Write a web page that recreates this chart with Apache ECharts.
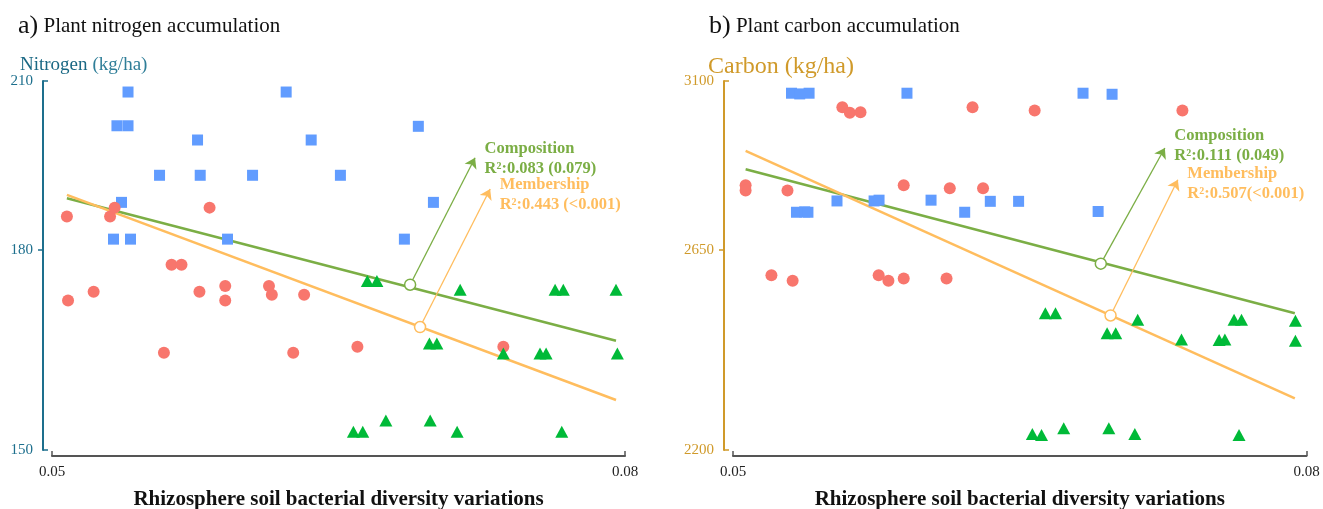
<!DOCTYPE html>
<html><head><meta charset="utf-8">
<script src="https://cdn.jsdelivr.net/npm/echarts@6/dist/echarts.min.js"></script>
<style>html,body{margin:0;padding:0;background:#fff}#c{width:1323px;height:509px}</style>
</head><body><div id="c"></div>
<script>
// ---------- data ----------
const xTicks = [0.05, 0.08];
const nTicks = [150, 180, 210];
const cTicks = [2200, 2650, 3100];

// Panel a) nitrogen (kg/ha)
const nBlue = [[0.05398,207.9],[0.06226,207.9],[0.05340,201.6],[0.05398,201.6],[0.05762,199.0],[0.06357,199.0],[0.06918,201.5],[0.05563,192.7],[0.05776,192.7],[0.06050,192.7],[0.06510,192.7],[0.05364,188.0],[0.06997,188.0],[0.05322,181.8],[0.05411,181.8],[0.05919,181.8],[0.06845,181.8]];
const nRed = [[0.05078,185.6],[0.05304,185.6],[0.05328,187.1],[0.05825,187.1],[0.05626,177.6],[0.05678,177.6],[0.05084,171.9],[0.05218,173.3],[0.05772,173.3],[0.05907,174.2],[0.05907,171.9],[0.06136,174.2],[0.06151,172.8],[0.06320,172.8],[0.05586,163.9],[0.06263,163.9],[0.06599,164.8],[0.07363,164.8]];
const nGreen = [[0.06651,175.0],[0.06701,175.0],[0.07137,173.6],[0.07634,173.6],[0.07677,173.6],[0.07953,173.6],[0.06976,165.3],[0.07015,165.3],[0.07363,163.8],[0.07555,163.8],[0.07587,163.8],[0.07960,163.8],[0.06578,152.5],[0.06627,152.5],[0.06748,154.1],[0.06980,154.1],[0.07121,152.5],[0.07669,152.5]];
const nFitComp = [[0.05078,188.7],[0.07953,165.7]];
const nFitMemb = [[0.05078,189.3],[0.07953,157.0]];
const nCompArrow = [[0.06875,174.4],[0.07215,195.8]];
const nMembArrow = [[0.06927,167.8],[0.07294,190.3]];
const nCompText = ['Composition','R²:0.083 (0.079)'];
const nMembText = ['Membership','R²:0.443 (<0.001)'];

// Panel b) carbon (kg/ha)
const cBlue = [[0.05306,3065],[0.05349,3063],[0.05398,3065],[0.05910,3065],[0.06831,3065],[0.06983,3062],[0.05544,2773],[0.05738,2773],[0.05764,2775],[0.06036,2775],[0.06346,2772],[0.06494,2772],[0.05332,2744],[0.05375,2745],[0.05392,2744],[0.06212,2744],[0.06910,2746]];
const cRed = [[0.05066,2814],[0.05066,2800],[0.05285,2800],[0.05572,3025],[0.05611,3010],[0.05667,3011],[0.05893,2814],[0.06134,2806],[0.06253,3025],[0.06308,2806],[0.06578,3016],[0.07351,3016],[0.05201,2588],[0.05312,2575],[0.05762,2588],[0.05813,2575],[0.05893,2580],[0.06117,2580]];
const cGreen = [[0.06634,2498],[0.06687,2498],[0.07117,2483],[0.07621,2483],[0.07660,2483],[0.07942,2481],[0.06957,2452],[0.07002,2452],[0.07346,2438],[0.07543,2437],[0.07573,2438],[0.07942,2435],[0.06566,2233],[0.06614,2231],[0.06730,2245],[0.06966,2245],[0.07102,2233],[0.07647,2231]];
const cFitComp = [[0.05066,2856],[0.07939,2498]];
const cFitMemb = [[0.05066,2905],[0.07939,2308]];
const cCompArrow = [[0.06924,2616],[0.07259,2913]];
const cMembArrow = [[0.06975,2493],[0.07327,2828]];
const cCompText = ['Composition','R²:0.111 (0.049)'];
const cMembText = ['Membership','R²:0.507(<0.001)'];

// ---------- styles ----------
const FONT = '"Liberation Serif","DejaVu Serif",serif';
const C_BLUE = '#619CFF', C_RED = '#F8766D', C_GREEN = '#00BA38';
const C_COMP = '#7BAE45', C_MEMB = '#FFBD5E';
const C_TEAL = '#1D6F8D', C_GOLD = '#D09A2A', C_AX = '#555555';

const grids = [
  {left: 52, top: 81, width: 573, height: 369, outerBoundsMode: 'none', containLabel: false},
  {left: 733, top: 81, width: 573.5, height: 369, outerBoundsMode: 'none', containLabel: false}
];

function xAxisFor(i) {
  return {
    type: 'value', gridIndex: i, min: 0.05, max: 0.08, offset: 6,
    axisLine: {show: true, lineStyle: {color: C_AX, width: 2}},
    axisTick: {show: true, inside: true, length: 5, customValues: xTicks, lineStyle: {color: C_AX, width: 1.5}},
    axisLabel: {customValues: xTicks, formatter: v => v.toFixed(2), fontFamily: FONT, fontSize: 15, color: '#222', margin: 9},
    splitLine: {show: false},
    name: 'Rhizosphere soil bacterial diversity variations', nameLocation: 'middle', nameGap: 33,
    nameTextStyle: {fontFamily: FONT, fontSize: 21, fontWeight: 'bold', color: '#111'}
  };
}
function yAxesFor(i, ticks, color) {
  return [{
    type: 'log', logBase: 10, gridIndex: i, position: 'left', min: ticks[0], max: ticks[2], offset: 9,
    axisLine: {show: true, lineStyle: {color: color, width: 2}},
    axisTick: {show: true, inside: false, length: 5, customValues: [ticks[1]], lineStyle: {color: color, width: 1.5}},
    axisLabel: {customValues: ticks, formatter: v => String(Math.round(v)), fontFamily: FONT, fontSize: 15, color: color, margin: 10},
    splitLine: {show: false}
  }, {
    type: 'log', logBase: 10, gridIndex: i, position: 'left', min: ticks[0], max: ticks[2], offset: 9,
    axisLine: {show: false},
    axisTick: {show: true, inside: true, length: 5, customValues: [ticks[0], ticks[2]], lineStyle: {color: color, width: 1.5}},
    axisLabel: {show: false},
    splitLine: {show: false}
  }];
}

function panelSeries(i, blue, red, green, fitC, fitM, arrC, arrM, txtC, txtM, dyC, dyM) {
  const xi = i, yi = i * 2;
  const base = {xAxisIndex: xi, yAxisIndex: yi};
  const lbl = (lines, color, dy) => ({
    show: true, position: 'right', distance: 9, offset: [0, dy],
    formatter: lines.map(s => '{t|' + s + '}').join('\n'),
    rich: {t: {fontFamily: FONT, fontSize: 16.5, fontWeight: 'bold', color: color, lineHeight: 20}}
  });
  const textAnchor = (pt, lines, color, dy) => Object.assign({
    type: 'scatter', data: [pt], symbol: 'circle', symbolSize: 1,
    itemStyle: {color: 'rgba(0,0,0,0)', opacity: 1}, label: lbl(lines, color, dy), z: 6, silent: true
  }, base);
  return [
    Object.assign({type: 'line', data: fitC, symbol: 'none', lineStyle: {color: C_COMP, width: 2.5}, z: 2, silent: true}, base),
    Object.assign({type: 'line', data: fitM, symbol: 'none', lineStyle: {color: C_MEMB, width: 2.5}, z: 2, silent: true}, base),
    Object.assign({type: 'scatter', data: blue, symbol: 'rect', symbolSize: 11, itemStyle: {color: C_BLUE, opacity: 1}, z: 3}, base),
    Object.assign({type: 'scatter', data: red, symbol: 'circle', symbolSize: 12, itemStyle: {color: C_RED, opacity: 1}, z: 3}, base),
    Object.assign({type: 'scatter', data: green, symbol: 'triangle', symbolSize: [13, 12], itemStyle: {color: C_GREEN, opacity: 1}, z: 3}, base),
    Object.assign({type: 'lines', coordinateSystem: 'cartesian2d', data: [{coords: arrC}],
      symbol: ['none', 'arrow'], symbolSize: 10, lineStyle: {color: C_COMP, width: 1.3, opacity: 1}, z: 4}, base),
    Object.assign({type: 'lines', coordinateSystem: 'cartesian2d', data: [{coords: arrM}],
      symbol: ['none', 'arrow'], symbolSize: 10, lineStyle: {color: C_MEMB, width: 1.3, opacity: 1}, z: 4}, base),
    Object.assign({type: 'scatter', data: [arrC[0]], symbol: 'circle', symbolSize: 11,
      itemStyle: {color: '#fff', borderColor: C_COMP, borderWidth: 1.5, opacity: 1}, z: 5}, base),
    Object.assign({type: 'scatter', data: [arrM[0]], symbol: 'circle', symbolSize: 11,
      itemStyle: {color: '#fff', borderColor: C_MEMB, borderWidth: 1.5, opacity: 1}, z: 5}, base),
    textAnchor(arrC[1], txtC, C_COMP, dyC),
    textAnchor(arrM[1], txtM, C_MEMB, dyM)
  ];
}

const chart = echarts.init(document.getElementById('c'), null, {renderer: 'canvas'});
chart.setOption({
  backgroundColor: '#fff',
  animation: false,
  title: [
    {left: 13, top: 8, text: '{a|a)}{t| Plant nitrogen accumulation}',
     textStyle: {rich: {a: {fontFamily: FONT, fontSize: 26, fontWeight: 'normal', color: '#111'}, t: {fontFamily: FONT, fontSize: 21, fontWeight: 'normal', color: '#111'}}}},
    {left: 704, top: 8, text: '{a|b)}{t| Plant carbon accumulation}',
     textStyle: {rich: {a: {fontFamily: FONT, fontSize: 26, fontWeight: 'normal', color: '#111'}, t: {fontFamily: FONT, fontSize: 21, fontWeight: 'normal', color: '#111'}}}},
    {left: 15, top: 51, text: '{n|Nitrogen} {u|(kg/ha)}',
     textStyle: {rich: {n: {fontFamily: FONT, fontSize: 19, fontWeight: 'normal', color: '#1A6884'}, u: {fontFamily: FONT, fontSize: 19, fontWeight: 'normal', color: '#2F7E98'}}}},
    {left: 703, top: 50, text: 'Carbon (kg/ha)',
     textStyle: {fontFamily: FONT, fontSize: 24, fontWeight: 'normal', color: C_GOLD}}
  ],
  grid: grids,
  xAxis: [xAxisFor(0), xAxisFor(1)],
  yAxis: [...yAxesFor(0, nTicks, C_TEAL), ...yAxesFor(1, cTicks, C_GOLD)],
  series: [
    ...panelSeries(0, nBlue, nRed, nGreen, nFitComp, nFitMemb, nCompArrow, nMembArrow, nCompText, nMembText, 1, 6),
    ...panelSeries(1, cBlue, cRed, cGreen, cFitComp, cFitMemb, cCompArrow, cMembArrow, cCompText, cMembText, -2, 4)
  ]
});
</script>
</body></html>
